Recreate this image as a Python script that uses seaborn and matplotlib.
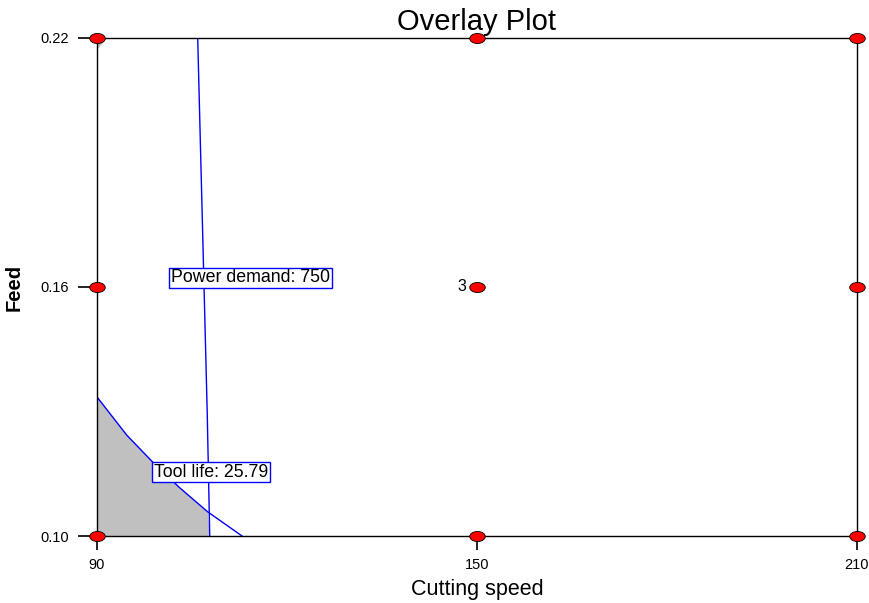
import matplotlib
matplotlib.use("Agg")
import matplotlib.pyplot as plt
import matplotlib.transforms as mtrans
import seaborn as sns
import numpy as np
import pandas as pd
from matplotlib.path import Path
from matplotlib.transforms import Affine2D

# ---- data ----
design_speed = [90, 90, 90, 150, 150, 150, 210, 210, 210]
design_feed = [0.10, 0.16, 0.22, 0.10, 0.16, 0.22, 0.10, 0.16, 0.22]
center_label = "3"

power_speed = [105.9, 106.4, 106.9, 107.4, 107.8]
power_feed = [0.22, 0.19, 0.16, 0.13, 0.10]
power_label = "Power demand: 750"

tool_speed = [90.0, 94.7, 98.8, 103.0, 107.5, 112.9]
tool_feed = [0.1335, 0.1243, 0.1178, 0.1117, 0.1058, 0.100]
tool_label = "Tool life: 25.79"

corner_speed = [90.0, 91.6, 90.0]
corner_feed = [0.22, 0.22, 0.2171]

x_ticks = [90, 150, 210]
y_ticks = [0.10, 0.16, 0.22]
y_ticklabels = ["0.10", "0.16", "0.22"]

plt.rcParams['font.family'] = ['Liberation Sans', 'DejaVu Sans']
plt.rcParams['text.color'] = 'black'
plt.rcParams['axes.labelcolor'] = 'black'

fig = plt.figure(figsize=(8.7, 6.03), dpi=100)
ax = fig.add_axes([0.1115, 0.1111, 0.8735, 0.8259])

# grey region below tool life curve and left of power line
inter_speed = 107.5
poly_x = [s for s in tool_speed if s <= inter_speed] + [power_speed[-1], tool_speed[0]]
poly_y = [f for s, f in zip(tool_speed, tool_feed) if s <= inter_speed] + [power_feed[-1], power_feed[-1]]
ax.fill(poly_x, poly_y, color="#C0C0C0", lw=0, zorder=1)
ax.fill(corner_speed, corner_feed, color="#C0C0C0", lw=0, zorder=1)

sns.lineplot(x=power_speed, y=power_feed, sort=False, estimator=None, color="#0000FF",
             lw=1, ax=ax, zorder=2)
sns.lineplot(x=tool_speed, y=tool_feed, sort=False, estimator=None, color="#0000FF",
             lw=1, ax=ax, zorder=2)

# explicit outward tick lines at the tick positions
bx = mtrans.blended_transform_factory(ax.transData, ax.transAxes)
by = mtrans.blended_transform_factory(ax.transAxes, ax.transData)
for t in x_ticks:
    ax.plot([t, t], [0, -0.028], color="#222222", lw=1.2, transform=bx,
            clip_on=False, zorder=4, solid_capstyle="butt")
for t in y_ticks:
    ax.plot([0, -0.025], [t, t], color="#222222", lw=1.2, transform=by,
            clip_on=False, zorder=4, solid_capstyle="butt")

ell = Path.unit_circle().transformed(Affine2D().scale(1.0, 0.65))
pts = pd.DataFrame({"speed": design_speed, "feed": design_feed})
sns.scatterplot(data=pts, x="speed", y="feed", marker=ell, s=125, color="#FF0000",
                edgecolor="black", linewidth=0.6, ax=ax, zorder=5, clip_on=False)

ax.text(148.3, 0.16, center_label, ha="right", va="center", fontsize=11.5, color="black")

bbox = dict(boxstyle="square,pad=0.1", fc="white", ec="#0000FF", lw=1)
ax.text(114.2, 0.1622, power_label, ha="center", va="center", fontsize=12.8, bbox=bbox, zorder=4)
ax.text(108.0, 0.1154, tool_label, ha="center", va="center", fontsize=12.8, bbox=bbox, zorder=4)

ax.set_xlim(90, 210)
ax.set_ylim(0.10, 0.22)
ax.set_xticks(x_ticks)
ax.set_xticklabels([str(t) for t in x_ticks])
ax.set_yticks(y_ticks)
ax.set_yticklabels(y_ticklabels)
ax.tick_params(axis="x", length=10, width=1.2, color="#222222", labelcolor="black",
               labelsize=10.5, pad=6)
ax.tick_params(axis="y", length=14, width=1.2, color="#222222", labelcolor="black",
               labelsize=10.5, pad=6)

for sp in ax.spines.values():
    sp.set_color("black")
    sp.set_linewidth(1.0)
    sp.set_visible(True)
ax.grid(False)

ax.set_xlabel("Cutting speed", fontsize=15.5, labelpad=5)
ax.set_ylabel("Feed", fontsize=14.5, fontweight="bold", labelpad=12)
ax.set_title("Overlay Plot", fontsize=21, pad=6)

fig.savefig("out.png", dpi=100)
